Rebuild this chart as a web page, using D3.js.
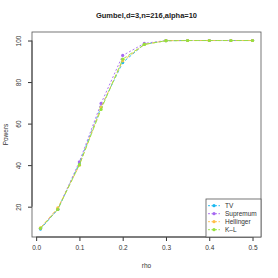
<!DOCTYPE html>
<html>
<head>
<meta charset="utf-8">
<script src="https://cdn.jsdelivr.net/npm/d3@7"></script>
<style>
  body { margin: 0; background: #fff; }
  text { font-family: "Liberation Sans", Arial, sans-serif; fill: #333; }
</style>
</head>
<body>
<div id="chart"></div>
<script>
// rho values and powers per method
const rho = [0.01, 0.05, 0.1, 0.15, 0.2, 0.25, 0.3, 0.35, 0.4, 0.45, 0.5];
const tv = [9.2, 18.7, 41.0, 68.0, 89.4, 98.2, 99.9, 100, 100, 100, 100];
const supremum = [9.6, 18.8, 41.6, 69.7, 92.8, 98.6, 100, 100, 100, 100, 100];
const hellinger = [9.8, 19.4, 40.0, 67.8, 90.2, 98.1, 99.9, 100, 100, 100, 100];
const kl = [9.6, 18.7, 40.2, 66.8, 91.0, 98.1, 99.9, 100, 100, 100, 100];
const xTicks = [0.0, 0.1, 0.2, 0.3, 0.4, 0.5];
const yTicks = [20, 40, 60, 80, 100];
const seriesNames = ["TV", "Supremum", "Hellinger", "K\u2013L"];
const seriesValues = [tv, supremum, hellinger, kl];
const colors = ["#1ab8f0", "#a668f0", "#ffbe4a", "#96e23c"];
const dashes = ["3,2", "2,2", "4,2", "5,2"];

const W = 278, H = 278;
const box = { left: 32, right: 261, top: 32, bottom: 237 };

const svg = d3.select("#chart").append("svg")
  .attr("width", W).attr("height", H);

const x = d3.scaleLinear().domain([-0.0096, 0.5196]).range([box.left, box.right]);
const y = d3.scaleLinear().domain([5.4, 104.1]).range([box.bottom, box.top]);

// title
svg.append("text")
  .attr("x", (box.left + box.right) / 2).attr("y", 18)
  .attr("text-anchor", "middle")
  .attr("font-size", "7.5px").attr("font-weight", "bold")
  .style("fill", "#222")
  .text("Gumbel,d=3,n=216,alpha=10");

// axes
const xAxis = svg.append("g")
  .attr("transform", "translate(0," + box.bottom + ")")
  .call(d3.axisBottom(x).tickValues(xTicks).tickFormat(d3.format(".1f")).tickSize(4).tickPadding(4));
xAxis.select(".domain").remove();
xAxis.append("line")
  .attr("x1", x(0)).attr("x2", x(0.5))
  .attr("stroke", "#333");

const yAxis = svg.append("g")
  .attr("transform", "translate(" + box.left + ",0)")
  .call(d3.axisLeft(y).tickValues(yTicks).tickSize(4).tickPadding(4));
yAxis.select(".domain").remove();
yAxis.append("line")
  .attr("y1", y(20)).attr("y2", y(100))
  .attr("stroke", "#333");
yAxis.selectAll(".tick text")
  .attr("transform", "rotate(-90)")
  .attr("x", 0).attr("y", -11)
  .attr("dy", 0)
  .style("text-anchor", "middle");

svg.selectAll(".tick line").attr("stroke", "#333");
svg.selectAll(".tick text").attr("font-size", "6.5px").attr("font-family", "Liberation Sans, Arial, sans-serif").style("fill", "#333");

// plot box
svg.append("rect")
  .attr("x", box.left).attr("y", box.top)
  .attr("width", box.right - box.left).attr("height", box.bottom - box.top)
  .attr("fill", "none").attr("stroke", "#555").attr("stroke-width", 0.8);

// axis labels
svg.append("text")
  .attr("x", (box.left + box.right) / 2).attr("y", 268)
  .attr("text-anchor", "middle").attr("font-size", "6.5px")
  .text("rho");
svg.append("text")
  .attr("transform", "translate(8," + ((box.top + box.bottom) / 2) + ") rotate(-90)")
  .attr("text-anchor", "middle").attr("font-size", "6.5px")
  .text("Powers");

// series
const line = d3.line().x((d, i) => x(rho[i])).y(d => y(d));
seriesValues.forEach((vals, k) => {
  svg.append("path")
    .datum(vals)
    .attr("d", line)
    .attr("fill", "none")
    .attr("stroke", colors[k])
    .attr("stroke-width", 0.9)
    .attr("stroke-dasharray", dashes[k]);
  svg.selectAll(".pt" + k)
    .data(vals)
    .enter().append("circle")
    .attr("class", "pt" + k)
    .attr("cx", (d, i) => x(rho[i]))
    .attr("cy", d => y(d))
    .attr("r", 1.6)
    .attr("fill", colors[k]);
});

// legend
const leg = svg.append("g");
leg.append("rect")
  .attr("x", 206).attr("y", 199)
  .attr("width", box.right - 206).attr("height", box.bottom - 199)
  .attr("fill", "#fff").attr("stroke", "#555").attr("stroke-width", 0.8);
seriesNames.forEach((name, k) => {
  const ly = 205.7 + k * 8;
  leg.append("line")
    .attr("x1", 208).attr("x2", 220).attr("y1", ly).attr("y2", ly)
    .attr("stroke", colors[k]).attr("stroke-width", 0.9)
    .attr("stroke-dasharray", "2,1.5");
  leg.append("circle")
    .attr("cx", 214).attr("cy", ly).attr("r", 1.6)
    .attr("fill", colors[k]);
  leg.append("text")
    .attr("x", 225).attr("y", ly + 2.3)
    .attr("font-size", "6.5px")
    .text(name);
});
</script>
</body>
</html>
